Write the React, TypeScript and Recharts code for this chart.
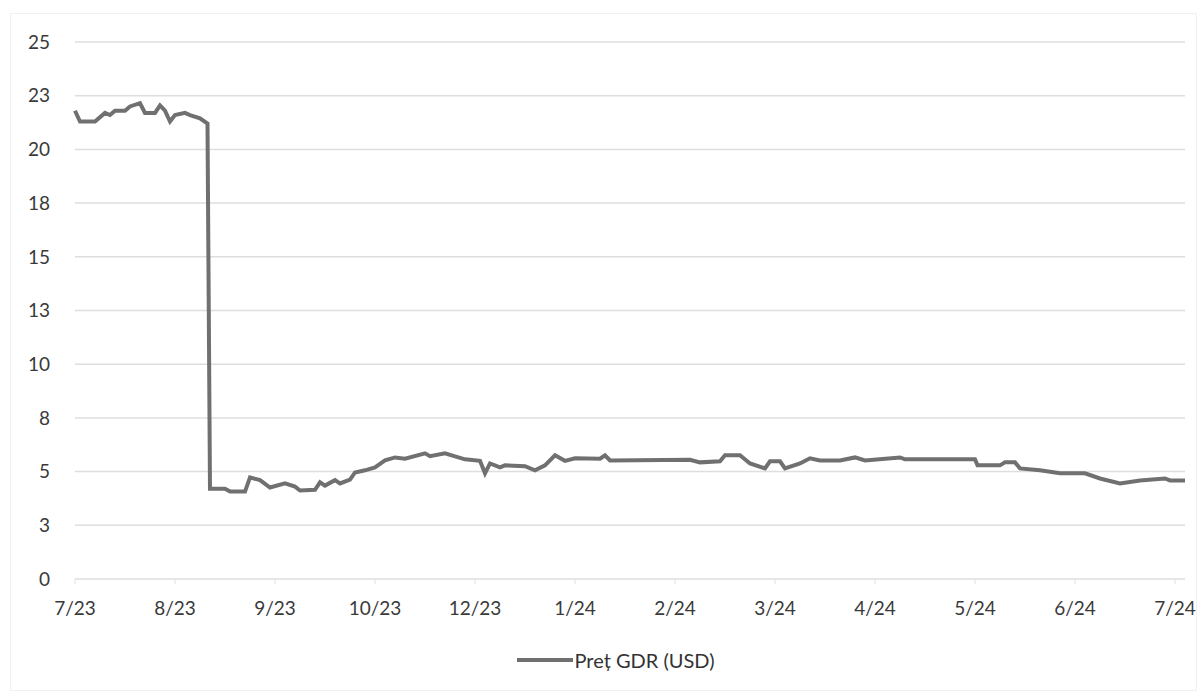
import React from "react";
import { LineChart, Line, XAxis, YAxis, CartesianGrid } from "recharts";

// trading-day index (20 per label step) and GDR price
const tradingDay = [
  0, 1, 4, 6, 7, 8, 10, 11, 13, 14, 16, 17, 18, 19, 20, 22, 23, 25, 26.5, 27,
  30, 31, 34, 35, 37, 39, 42, 44, 45, 48, 49, 50, 52, 53, 55, 56, 58, 60, 62, 64,
  66, 70, 71, 74, 76, 78, 81, 82, 83, 85, 86, 90, 92, 94, 96, 98, 100, 105, 106, 107,
  123, 125, 129, 130, 133, 135, 138, 139, 141, 142, 145, 147, 149, 153, 156, 158, 165, 166, 180, 180.5,
  185, 186, 188, 189, 193, 197, 202, 205, 209, 213, 218, 219, 222,
];
const price = [
  21.8, 21.3, 21.3, 21.7, 21.6, 21.8, 21.8, 22.0, 22.15, 21.7, 21.7, 22.05, 21.8, 21.3, 21.6, 21.7, 21.6, 21.45, 21.2, 4.2,
  4.2, 4.07, 4.07, 4.73, 4.6, 4.26, 4.45, 4.3, 4.12, 4.15, 4.5, 4.35, 4.6, 4.45, 4.63, 4.96, 5.06, 5.2, 5.52, 5.66,
  5.6, 5.85, 5.72, 5.85, 5.71, 5.57, 5.5, 4.92, 5.38, 5.2, 5.29, 5.25, 5.06, 5.29, 5.76, 5.5, 5.62, 5.6, 5.76, 5.52,
  5.55, 5.43, 5.48, 5.76, 5.76, 5.38, 5.15, 5.48, 5.48, 5.15, 5.38, 5.62, 5.52, 5.52, 5.66, 5.52, 5.66, 5.57, 5.57, 5.29,
  5.29, 5.43, 5.43, 5.15, 5.06, 4.92, 4.92, 4.68, 4.45, 4.59, 4.68, 4.59, 4.59,
];

const tickDays = [0, 20, 40, 60, 80, 100, 120, 140, 160, 180, 200, 220];
const tickLabels = ["7/23", "8/23", "9/23", "10/23", "12/23", "1/24", "2/24", "3/24", "4/24", "5/24", "6/24", "7/24"];
const yTicks = [0, 2.5, 5, 7.5, 10, 12.5, 15, 17.5, 20, 22.5, 25];

const seriesName = "Preț GDR (USD)";
const data = tradingDay.map((d, i) => ({ day: d, price: price[i] }));

const font = "Lato, 'Open Sans', sans-serif";
const lineColor = "#707070";

export default function App() {
  return (
    <div style={{ position: "absolute", left: 0, top: 0, width: 1201, height: 693, background: "#fff", fontFamily: font }}>
      <div style={{ position: "absolute", left: 10, top: 13, right: 4, bottom: 2, border: "1px solid #f0f0f0" }} />
      <LineChart width={1201} height={693} data={data} margin={{ top: 42, right: 16, left: 0, bottom: 84 }}>
        <CartesianGrid vertical={false} stroke="#dedede" strokeWidth={1.5} />
        <XAxis
          dataKey="day"
          type="number"
          domain={[0, 222]}
          ticks={tickDays}
          tickFormatter={(v: number) => tickLabels[tickDays.indexOf(v)] ?? ""}
          axisLine={false}
          tickLine={{ stroke: "#e2e2e2" }}
          tickSize={5}
          tickMargin={18}
          interval={0}
          tick={{ fontSize: 19, fill: "#3a3a3a", fontFamily: font }}
        />
        <YAxis
          domain={[0, 25]}
          ticks={yTicks}
          tickFormatter={(v: number) => String(Math.round(v))}
          axisLine={false}
          tickLine={false}
          width={75}
          tickMargin={19}
          interval={0}
          tick={{ fontSize: 19, fill: "#3a3a3a", fontFamily: font }}
        />
        <Line
          type="linear"
          dataKey="price"
          name={seriesName}
          stroke={lineColor}
          strokeWidth={4}
          dot={false}
          isAnimationActive={false}
        />
      </LineChart>
      <div
        style={{
          position: "absolute",
          top: 648,
          left: 0,
          width: 1201,
          display: "flex",
          justifyContent: "center",
          alignItems: "center",
          fontSize: 20,
          color: "#333",
        }}
      >
        <span style={{ display: "inline-block", width: 56, height: 4, background: lineColor, marginRight: 2, marginLeft: 30 }} />
        <span>{seriesName}</span>
      </div>
    </div>
  );
}
